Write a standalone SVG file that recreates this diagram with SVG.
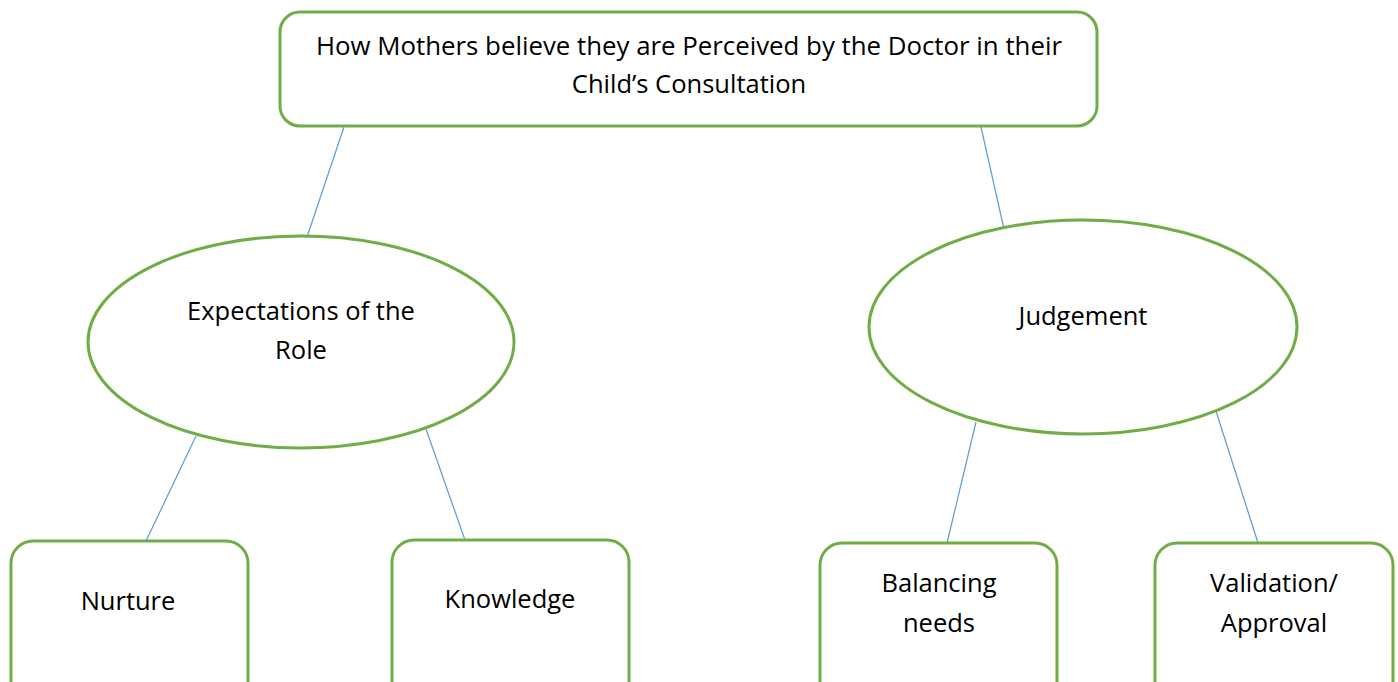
<svg xmlns="http://www.w3.org/2000/svg" width="1398" height="682" viewBox="0 0 1398 682">
<style>
.n{fill:#fff;stroke:#70AD47;stroke-width:3}
.t{font-family:"Open Sans","Liberation Sans",sans-serif;font-size:25.5px;fill:#000;text-anchor:middle}
.c line{stroke:#5B9BD5;stroke-width:1.2}
</style>
<rect width="1398" height="682" fill="#fff"/>
<g class="c" id="connectors">
<line x1="344" y1="127" x2="307" y2="237"/>
<line x1="981" y1="127" x2="1004" y2="229"/>
<line x1="196" y1="436" x2="146" y2="541"/>
<line x1="426" y1="429" x2="465" y2="540"/>
<line x1="976" y1="422" x2="947" y2="543"/>
<line x1="1216" y1="411" x2="1258" y2="543"/>
</g>
<g id="root">
<rect class="n" x="280" y="12" width="817" height="114" rx="20"/>
<text class="t" x="689" y="55" textLength="746" lengthAdjust="spacingAndGlyphs">How Mothers believe they are Perceived by the Doctor in their</text>
<text class="t" x="689" y="93">Child’s Consultation</text>
</g>
<g id="expectations">
<ellipse class="n" cx="301" cy="342" rx="213" ry="106"/>
<text class="t" x="301" y="320">Expectations of the</text>
<text class="t" x="301" y="359">Role</text>
</g>
<g id="judgement">
<ellipse class="n" cx="1083" cy="327" rx="214" ry="107"/>
<text class="t" x="1083" y="325">Judgement</text>
</g>
<g id="nurture">
<rect class="n" x="11" y="541" width="237" height="170" rx="22"/>
<text class="t" x="128" y="610">Nurture</text>
</g>
<g id="knowledge">
<rect class="n" x="392" y="540" width="237" height="170" rx="22"/>
<text class="t" x="510" y="608">Knowledge</text>
</g>
<g id="balancing">
<rect class="n" x="820" y="543" width="237" height="170" rx="22"/>
<text class="t" x="939" y="592">Balancing</text>
<text class="t" x="939" y="632">needs</text>
</g>
<g id="validation">
<rect class="n" x="1155" y="543" width="238" height="170" rx="22"/>
<text class="t" x="1274" y="592">Validation/</text>
<text class="t" x="1274" y="632">Approval</text>
</g>
</svg>
